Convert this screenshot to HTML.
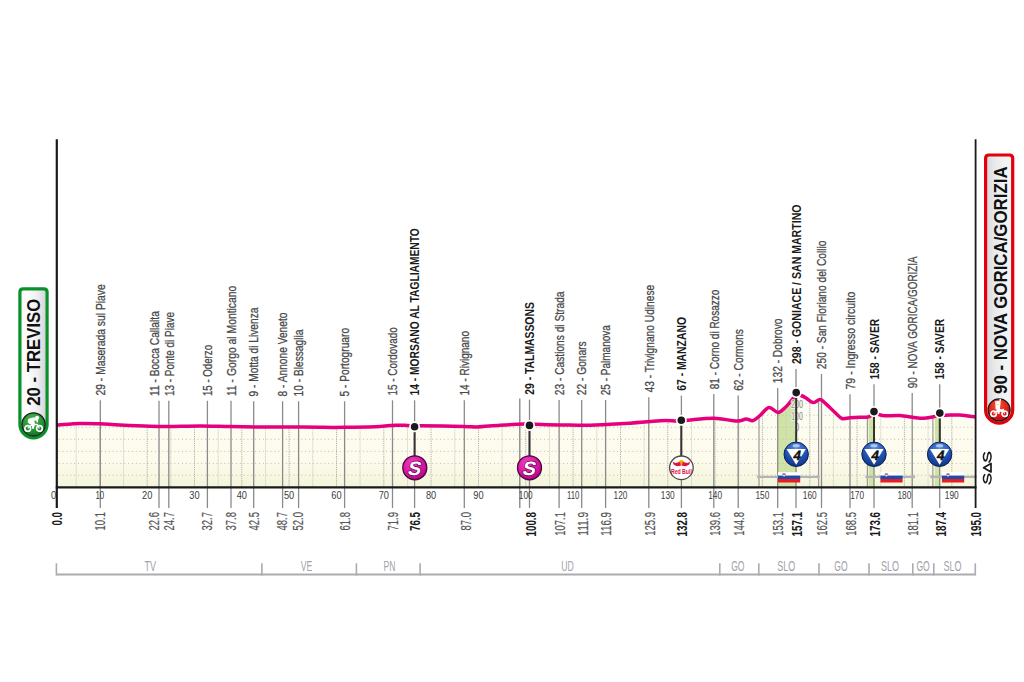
<!DOCTYPE html>
<html><head><meta charset="utf-8"><style>
html,body{margin:0;padding:0;background:#fff;width:1024px;height:682px;overflow:hidden}
svg{display:block}
text{font-family:"Liberation Sans", sans-serif}
</style></head><body>
<svg width="1024" height="682" viewBox="0 0 1024 682">
<defs>
<linearGradient id="fillg" x1="0" y1="0" x2="0" y2="1">
 <stop offset="0" stop-color="#fefdf4"/><stop offset="0.72" stop-color="#fcfbec"/><stop offset="0.86" stop-color="#f8f8e3"/><stop offset="1" stop-color="#f2f4da"/>
</linearGradient>
<linearGradient id="badgeg" x1="0" y1="0" x2="1" y2="0">
 <stop offset="0" stop-color="#f6f6f6"/><stop offset="0.25" stop-color="#ffffff"/><stop offset="0.65" stop-color="#eeeef0"/><stop offset="1" stop-color="#cfd0d5"/>
</linearGradient>
<linearGradient id="badgeg2" x1="1" y1="0" x2="0" y2="0">
 <stop offset="0" stop-color="#f4f5f5"/><stop offset="0.3" stop-color="#f2f3f3"/><stop offset="0.7" stop-color="#e6e8ea"/><stop offset="1" stop-color="#d2d6da"/>
</linearGradient>
<radialGradient id="greeng" cx="0.45" cy="0.3" r="0.75">
 <stop offset="0" stop-color="#4db848"/><stop offset="0.7" stop-color="#1d8a34"/><stop offset="1" stop-color="#0f6a26"/>
</radialGradient>
<radialGradient id="redg" cx="0.45" cy="0.3" r="0.75">
 <stop offset="0" stop-color="#f2592a"/><stop offset="0.7" stop-color="#d8141b"/><stop offset="1" stop-color="#a50e14"/>
</radialGradient>
<radialGradient id="magg" cx="0.4" cy="0.3" r="0.8">
 <stop offset="0" stop-color="#f040c0"/><stop offset="0.65" stop-color="#d4109f"/><stop offset="1" stop-color="#9a0072"/>
</radialGradient>
<radialGradient id="blueg" cx="0.5" cy="0.25" r="0.85">
 <stop offset="0" stop-color="#5a8fe0"/><stop offset="0.55" stop-color="#1f4fae"/><stop offset="1" stop-color="#0d2a72"/>
</radialGradient>
</defs>

<path d="M56.8,425.0 C60.7,424.8 72.8,423.7 80.0,423.5 C87.2,423.3 93.3,423.6 100.0,423.8 C106.7,424.1 111.7,424.6 120.0,425.0 C128.3,425.4 141.7,426.0 150.0,426.2 C158.3,426.4 161.7,426.4 170.0,426.4 C178.3,426.3 190.0,425.9 200.0,425.9 C210.0,425.9 220.0,426.4 230.0,426.6 C240.0,426.8 250.0,426.9 260.0,427.0 C270.0,427.1 280.0,426.9 290.0,427.0 C300.0,427.1 310.8,427.2 320.0,427.3 C329.2,427.4 335.0,427.5 345.0,427.3 C355.0,427.1 371.7,426.8 380.0,426.4 C388.3,426.0 390.8,425.4 395.0,425.2 C399.2,425.0 401.8,425.2 405.0,425.3 C408.2,425.4 412.1,425.9 414.5,426.0 C416.9,426.1 411.2,425.7 419.5,425.8 C427.8,425.9 454.4,426.2 464.0,426.4 C473.6,426.6 471.0,427.2 477.0,427.0 C483.0,426.8 492.0,425.7 500.0,425.2 C508.0,424.7 520.1,424.2 525.0,424.1 C529.9,424.0 527.8,424.6 529.5,424.6 C531.2,424.6 529.9,424.2 535.0,424.3 C540.1,424.4 550.8,424.8 560.0,424.9 C569.2,425.0 580.0,425.4 590.0,425.2 C600.0,425.0 610.0,424.4 620.0,423.8 C630.0,423.2 642.5,422.1 650.0,421.5 C657.5,420.9 660.7,420.6 665.0,420.5 C669.3,420.4 673.3,421.1 676.0,421.1 C678.7,421.1 679.3,420.8 681.3,420.6 C683.3,420.5 682.5,420.6 688.0,420.2 C693.5,419.8 705.8,418.0 714.0,418.2 C722.2,418.4 731.7,421.0 737.0,421.1 C742.3,421.2 743.3,419.1 746.0,419.0 C748.7,418.9 750.7,421.2 753.0,420.6 C755.3,420.0 757.3,417.7 760.0,415.5 C762.7,413.3 766.0,408.0 769.0,407.5 C772.0,407.0 775.2,412.6 778.0,412.5 C780.8,412.4 783.5,409.0 786.0,406.7 C788.5,404.4 791.3,400.6 793.0,398.5 C794.7,396.4 795.1,394.6 796.3,394.0 C797.5,393.4 798.4,394.4 800.0,395.0 C801.6,395.6 803.8,396.6 806.0,397.9 C808.2,399.2 810.7,402.3 813.0,402.6 C815.3,402.9 817.8,399.4 820.0,399.6 C822.2,399.8 823.5,401.7 826.0,403.8 C828.5,405.9 832.3,410.1 835.0,412.5 C837.7,414.9 839.5,417.6 842.0,418.5 C844.5,419.4 847.0,418.0 850.0,417.8 C853.0,417.6 857.0,417.4 860.0,417.3 C863.0,417.2 866.2,417.4 868.0,417.0 C869.8,416.6 870.0,415.8 871.0,415.2 C872.0,414.6 872.8,413.6 874.0,413.5 C875.2,413.4 876.2,413.9 878.0,414.3 C879.8,414.7 881.3,415.6 885.0,415.8 C888.7,416.0 894.2,415.1 900.0,415.5 C905.8,415.9 914.2,418.1 920.0,418.2 C925.8,418.3 931.7,417.0 935.0,416.4 C938.3,415.8 938.1,414.7 939.8,414.5 C941.5,414.3 941.6,415.1 945.0,415.2 C948.4,415.3 954.9,414.7 960.0,415.0 C965.1,415.3 973.0,416.7 975.6,417.0 L975.6,487.4 L56.8,487.4 Z" fill="url(#fillg)"/>
<clipPath id="fillclip"><path d="M56.8,425.0 C60.7,424.8 72.8,423.7 80.0,423.5 C87.2,423.3 93.3,423.6 100.0,423.8 C106.7,424.1 111.7,424.6 120.0,425.0 C128.3,425.4 141.7,426.0 150.0,426.2 C158.3,426.4 161.7,426.4 170.0,426.4 C178.3,426.3 190.0,425.9 200.0,425.9 C210.0,425.9 220.0,426.4 230.0,426.6 C240.0,426.8 250.0,426.9 260.0,427.0 C270.0,427.1 280.0,426.9 290.0,427.0 C300.0,427.1 310.8,427.2 320.0,427.3 C329.2,427.4 335.0,427.5 345.0,427.3 C355.0,427.1 371.7,426.8 380.0,426.4 C388.3,426.0 390.8,425.4 395.0,425.2 C399.2,425.0 401.8,425.2 405.0,425.3 C408.2,425.4 412.1,425.9 414.5,426.0 C416.9,426.1 411.2,425.7 419.5,425.8 C427.8,425.9 454.4,426.2 464.0,426.4 C473.6,426.6 471.0,427.2 477.0,427.0 C483.0,426.8 492.0,425.7 500.0,425.2 C508.0,424.7 520.1,424.2 525.0,424.1 C529.9,424.0 527.8,424.6 529.5,424.6 C531.2,424.6 529.9,424.2 535.0,424.3 C540.1,424.4 550.8,424.8 560.0,424.9 C569.2,425.0 580.0,425.4 590.0,425.2 C600.0,425.0 610.0,424.4 620.0,423.8 C630.0,423.2 642.5,422.1 650.0,421.5 C657.5,420.9 660.7,420.6 665.0,420.5 C669.3,420.4 673.3,421.1 676.0,421.1 C678.7,421.1 679.3,420.8 681.3,420.6 C683.3,420.5 682.5,420.6 688.0,420.2 C693.5,419.8 705.8,418.0 714.0,418.2 C722.2,418.4 731.7,421.0 737.0,421.1 C742.3,421.2 743.3,419.1 746.0,419.0 C748.7,418.9 750.7,421.2 753.0,420.6 C755.3,420.0 757.3,417.7 760.0,415.5 C762.7,413.3 766.0,408.0 769.0,407.5 C772.0,407.0 775.2,412.6 778.0,412.5 C780.8,412.4 783.5,409.0 786.0,406.7 C788.5,404.4 791.3,400.6 793.0,398.5 C794.7,396.4 795.1,394.6 796.3,394.0 C797.5,393.4 798.4,394.4 800.0,395.0 C801.6,395.6 803.8,396.6 806.0,397.9 C808.2,399.2 810.7,402.3 813.0,402.6 C815.3,402.9 817.8,399.4 820.0,399.6 C822.2,399.8 823.5,401.7 826.0,403.8 C828.5,405.9 832.3,410.1 835.0,412.5 C837.7,414.9 839.5,417.6 842.0,418.5 C844.5,419.4 847.0,418.0 850.0,417.8 C853.0,417.6 857.0,417.4 860.0,417.3 C863.0,417.2 866.2,417.4 868.0,417.0 C869.8,416.6 870.0,415.8 871.0,415.2 C872.0,414.6 872.8,413.6 874.0,413.5 C875.2,413.4 876.2,413.9 878.0,414.3 C879.8,414.7 881.3,415.6 885.0,415.8 C888.7,416.0 894.2,415.1 900.0,415.5 C905.8,415.9 914.2,418.1 920.0,418.2 C925.8,418.3 931.7,417.0 935.0,416.4 C938.3,415.8 938.1,414.7 939.8,414.5 C941.5,414.3 941.6,415.1 945.0,415.2 C948.4,415.3 954.9,414.7 960.0,415.0 C965.1,415.3 973.0,416.7 975.6,417.0 L975.6,487.4 L56.8,487.4 Z"/></clipPath>
<g clip-path="url(#fillclip)">
<rect x="777.6" y="380" width="18.6" height="107.39999999999998" fill="#cfe3a6"/>
<rect x="868.6" y="380" width="5.4" height="107.39999999999998" fill="#cfe3a6"/>
<rect x="934.8" y="380" width="4.9" height="107.39999999999998" fill="#cfe3a6"/>
<line x1="58.8" y1="403.4" x2="974.6" y2="403.4" stroke="#bdbdb2" stroke-width="1" stroke-dasharray="1,2.85"/>
<line x1="58.8" y1="415.3" x2="974.6" y2="415.3" stroke="#bdbdb2" stroke-width="1" stroke-dasharray="1,2.85"/>
<line x1="58.8" y1="427.3" x2="974.6" y2="427.3" stroke="#bdbdb2" stroke-width="1" stroke-dasharray="1,2.85"/>
<line x1="58.8" y1="439.3" x2="974.6" y2="439.3" stroke="#bdbdb2" stroke-width="1" stroke-dasharray="1,2.85"/>
<line x1="58.8" y1="451.4" x2="974.6" y2="451.4" stroke="#bdbdb2" stroke-width="1" stroke-dasharray="1,2.85"/>
<line x1="58.8" y1="463.4" x2="974.6" y2="463.4" stroke="#bdbdb2" stroke-width="1" stroke-dasharray="1,2.85"/>
<line x1="58.8" y1="475.2" x2="974.6" y2="475.2" stroke="#bdbdb2" stroke-width="1" stroke-dasharray="1,2.85"/>
<line x1="76.2" y1="390" x2="76.2" y2="487.4" stroke="#cfcfc4" stroke-width="0.9" stroke-dasharray="1.5,0.7"/>
<line x1="99.8" y1="390" x2="99.8" y2="487.4" stroke="#a9a9a0" stroke-width="0.9" stroke-dasharray="1.2,1.0"/>
<line x1="123.5" y1="390" x2="123.5" y2="487.4" stroke="#cfcfc4" stroke-width="0.9" stroke-dasharray="1.5,0.7"/>
<line x1="147.2" y1="390" x2="147.2" y2="487.4" stroke="#a9a9a0" stroke-width="0.9" stroke-dasharray="1.2,1.0"/>
<line x1="170.8" y1="390" x2="170.8" y2="487.4" stroke="#cfcfc4" stroke-width="0.9" stroke-dasharray="1.5,0.7"/>
<line x1="194.5" y1="390" x2="194.5" y2="487.4" stroke="#a9a9a0" stroke-width="0.9" stroke-dasharray="1.2,1.0"/>
<line x1="218.2" y1="390" x2="218.2" y2="487.4" stroke="#cfcfc4" stroke-width="0.9" stroke-dasharray="1.5,0.7"/>
<line x1="241.8" y1="390" x2="241.8" y2="487.4" stroke="#a9a9a0" stroke-width="0.9" stroke-dasharray="1.2,1.0"/>
<line x1="265.5" y1="390" x2="265.5" y2="487.4" stroke="#cfcfc4" stroke-width="0.9" stroke-dasharray="1.5,0.7"/>
<line x1="289.1" y1="390" x2="289.1" y2="487.4" stroke="#a9a9a0" stroke-width="0.9" stroke-dasharray="1.2,1.0"/>
<line x1="312.8" y1="390" x2="312.8" y2="487.4" stroke="#cfcfc4" stroke-width="0.9" stroke-dasharray="1.5,0.7"/>
<line x1="336.5" y1="390" x2="336.5" y2="487.4" stroke="#a9a9a0" stroke-width="0.9" stroke-dasharray="1.2,1.0"/>
<line x1="360.1" y1="390" x2="360.1" y2="487.4" stroke="#cfcfc4" stroke-width="0.9" stroke-dasharray="1.5,0.7"/>
<line x1="383.8" y1="390" x2="383.8" y2="487.4" stroke="#a9a9a0" stroke-width="0.9" stroke-dasharray="1.2,1.0"/>
<line x1="407.5" y1="390" x2="407.5" y2="487.4" stroke="#cfcfc4" stroke-width="0.9" stroke-dasharray="1.5,0.7"/>
<line x1="431.1" y1="390" x2="431.1" y2="487.4" stroke="#a9a9a0" stroke-width="0.9" stroke-dasharray="1.2,1.0"/>
<line x1="454.8" y1="390" x2="454.8" y2="487.4" stroke="#cfcfc4" stroke-width="0.9" stroke-dasharray="1.5,0.7"/>
<line x1="478.5" y1="390" x2="478.5" y2="487.4" stroke="#a9a9a0" stroke-width="0.9" stroke-dasharray="1.2,1.0"/>
<line x1="502.1" y1="390" x2="502.1" y2="487.4" stroke="#cfcfc4" stroke-width="0.9" stroke-dasharray="1.5,0.7"/>
<line x1="525.8" y1="390" x2="525.8" y2="487.4" stroke="#a9a9a0" stroke-width="0.9" stroke-dasharray="1.2,1.0"/>
<line x1="549.5" y1="390" x2="549.5" y2="487.4" stroke="#cfcfc4" stroke-width="0.9" stroke-dasharray="1.5,0.7"/>
<line x1="573.1" y1="390" x2="573.1" y2="487.4" stroke="#a9a9a0" stroke-width="0.9" stroke-dasharray="1.2,1.0"/>
<line x1="596.8" y1="390" x2="596.8" y2="487.4" stroke="#cfcfc4" stroke-width="0.9" stroke-dasharray="1.5,0.7"/>
<line x1="620.5" y1="390" x2="620.5" y2="487.4" stroke="#a9a9a0" stroke-width="0.9" stroke-dasharray="1.2,1.0"/>
<line x1="644.1" y1="390" x2="644.1" y2="487.4" stroke="#cfcfc4" stroke-width="0.9" stroke-dasharray="1.5,0.7"/>
<line x1="667.8" y1="390" x2="667.8" y2="487.4" stroke="#a9a9a0" stroke-width="0.9" stroke-dasharray="1.2,1.0"/>
<line x1="691.5" y1="390" x2="691.5" y2="487.4" stroke="#cfcfc4" stroke-width="0.9" stroke-dasharray="1.5,0.7"/>
<line x1="715.1" y1="390" x2="715.1" y2="487.4" stroke="#a9a9a0" stroke-width="0.9" stroke-dasharray="1.2,1.0"/>
<line x1="738.8" y1="390" x2="738.8" y2="487.4" stroke="#cfcfc4" stroke-width="0.9" stroke-dasharray="1.5,0.7"/>
<line x1="762.4" y1="390" x2="762.4" y2="487.4" stroke="#a9a9a0" stroke-width="0.9" stroke-dasharray="1.2,1.0"/>
<line x1="786.1" y1="390" x2="786.1" y2="487.4" stroke="#cfcfc4" stroke-width="0.9" stroke-dasharray="1.5,0.7"/>
<line x1="809.8" y1="390" x2="809.8" y2="487.4" stroke="#a9a9a0" stroke-width="0.9" stroke-dasharray="1.2,1.0"/>
<line x1="833.4" y1="390" x2="833.4" y2="487.4" stroke="#cfcfc4" stroke-width="0.9" stroke-dasharray="1.5,0.7"/>
<line x1="857.1" y1="390" x2="857.1" y2="487.4" stroke="#a9a9a0" stroke-width="0.9" stroke-dasharray="1.2,1.0"/>
<line x1="880.8" y1="390" x2="880.8" y2="487.4" stroke="#cfcfc4" stroke-width="0.9" stroke-dasharray="1.5,0.7"/>
<line x1="904.4" y1="390" x2="904.4" y2="487.4" stroke="#a9a9a0" stroke-width="0.9" stroke-dasharray="1.2,1.0"/>
<line x1="928.1" y1="390" x2="928.1" y2="487.4" stroke="#cfcfc4" stroke-width="0.9" stroke-dasharray="1.5,0.7"/>
<line x1="951.8" y1="390" x2="951.8" y2="487.4" stroke="#a9a9a0" stroke-width="0.9" stroke-dasharray="1.2,1.0"/>
</g>
<line x1="100.3" y1="400.3" x2="100.3" y2="508" stroke="#8a8a8a" stroke-width="1.3"/>
<line x1="159.0" y1="400.8" x2="159.0" y2="508" stroke="#8a8a8a" stroke-width="1.3"/>
<line x1="168.8" y1="400.8" x2="168.8" y2="508" stroke="#8a8a8a" stroke-width="1.3"/>
<line x1="207.4" y1="400.8" x2="207.4" y2="508" stroke="#8a8a8a" stroke-width="1.3"/>
<line x1="231.0" y1="400.8" x2="231.0" y2="508" stroke="#8a8a8a" stroke-width="1.3"/>
<line x1="253.7" y1="401.3" x2="253.7" y2="508" stroke="#8a8a8a" stroke-width="1.3"/>
<line x1="282.6" y1="401.3" x2="282.6" y2="508" stroke="#8a8a8a" stroke-width="1.3"/>
<line x1="298.6" y1="401.3" x2="298.6" y2="508" stroke="#8a8a8a" stroke-width="1.3"/>
<line x1="344.6" y1="401.3" x2="344.6" y2="508" stroke="#8a8a8a" stroke-width="1.3"/>
<line x1="392.5" y1="400.3" x2="392.5" y2="508" stroke="#8a8a8a" stroke-width="1.3"/>
<line x1="414.6" y1="400.3" x2="414.6" y2="508" stroke="#8a8a8a" stroke-width="1.3"/>
<line x1="464.3" y1="400.3" x2="464.3" y2="508" stroke="#8a8a8a" stroke-width="1.3"/>
<line x1="529.5" y1="399.6" x2="529.5" y2="508" stroke="#8a8a8a" stroke-width="1.3"/>
<line x1="559.1" y1="400.0" x2="559.1" y2="508" stroke="#8a8a8a" stroke-width="1.3"/>
<line x1="581.7" y1="400.0" x2="581.7" y2="508" stroke="#8a8a8a" stroke-width="1.3"/>
<line x1="605.6" y1="400.0" x2="605.6" y2="508" stroke="#8a8a8a" stroke-width="1.3"/>
<line x1="648.8" y1="397.3" x2="648.8" y2="508" stroke="#8a8a8a" stroke-width="1.3"/>
<line x1="681.4" y1="395.6" x2="681.4" y2="508" stroke="#8a8a8a" stroke-width="1.3"/>
<line x1="713.8" y1="394.1" x2="713.8" y2="508" stroke="#8a8a8a" stroke-width="1.3"/>
<line x1="738.2" y1="395.6" x2="738.2" y2="508" stroke="#8a8a8a" stroke-width="1.3"/>
<line x1="777.7" y1="388.0" x2="777.7" y2="508" stroke="#8a8a8a" stroke-width="1.3"/>
<line x1="796.0" y1="368.9" x2="796.0" y2="508" stroke="#8a8a8a" stroke-width="1.3"/>
<line x1="821.5" y1="374.0" x2="821.5" y2="508" stroke="#8a8a8a" stroke-width="1.3"/>
<line x1="850.0" y1="394.3" x2="850.0" y2="508" stroke="#8a8a8a" stroke-width="1.3"/>
<line x1="874.0" y1="384.2" x2="874.0" y2="508" stroke="#8a8a8a" stroke-width="1.3"/>
<line x1="912.2" y1="393.0" x2="912.2" y2="508" stroke="#8a8a8a" stroke-width="1.3"/>
<line x1="939.7" y1="384.2" x2="939.7" y2="508" stroke="#8a8a8a" stroke-width="1.3"/>
<line x1="519.8" y1="398.4" x2="519.8" y2="508" stroke="#808080" stroke-width="1.3"/>
<line x1="759.0" y1="416.2" x2="759.0" y2="487.4" stroke="#9a9a9a" stroke-width="1.2"/>
<line x1="818.6" y1="400.2" x2="818.6" y2="487.4" stroke="#9a9a9a" stroke-width="1.2"/>
<line x1="867.4" y1="417.0" x2="867.4" y2="487.4" stroke="#9a9a9a" stroke-width="1.2"/>
<line x1="932.9" y1="416.7" x2="932.9" y2="487.4" stroke="#9a9a9a" stroke-width="1.2"/>
<path d="M56.8,425.0 C60.7,424.8 72.8,423.7 80.0,423.5 C87.2,423.3 93.3,423.6 100.0,423.8 C106.7,424.1 111.7,424.6 120.0,425.0 C128.3,425.4 141.7,426.0 150.0,426.2 C158.3,426.4 161.7,426.4 170.0,426.4 C178.3,426.3 190.0,425.9 200.0,425.9 C210.0,425.9 220.0,426.4 230.0,426.6 C240.0,426.8 250.0,426.9 260.0,427.0 C270.0,427.1 280.0,426.9 290.0,427.0 C300.0,427.1 310.8,427.2 320.0,427.3 C329.2,427.4 335.0,427.5 345.0,427.3 C355.0,427.1 371.7,426.8 380.0,426.4 C388.3,426.0 390.8,425.4 395.0,425.2 C399.2,425.0 401.8,425.2 405.0,425.3 C408.2,425.4 412.1,425.9 414.5,426.0 C416.9,426.1 411.2,425.7 419.5,425.8 C427.8,425.9 454.4,426.2 464.0,426.4 C473.6,426.6 471.0,427.2 477.0,427.0 C483.0,426.8 492.0,425.7 500.0,425.2 C508.0,424.7 520.1,424.2 525.0,424.1 C529.9,424.0 527.8,424.6 529.5,424.6 C531.2,424.6 529.9,424.2 535.0,424.3 C540.1,424.4 550.8,424.8 560.0,424.9 C569.2,425.0 580.0,425.4 590.0,425.2 C600.0,425.0 610.0,424.4 620.0,423.8 C630.0,423.2 642.5,422.1 650.0,421.5 C657.5,420.9 660.7,420.6 665.0,420.5 C669.3,420.4 673.3,421.1 676.0,421.1 C678.7,421.1 679.3,420.8 681.3,420.6 C683.3,420.5 682.5,420.6 688.0,420.2 C693.5,419.8 705.8,418.0 714.0,418.2 C722.2,418.4 731.7,421.0 737.0,421.1 C742.3,421.2 743.3,419.1 746.0,419.0 C748.7,418.9 750.7,421.2 753.0,420.6 C755.3,420.0 757.3,417.7 760.0,415.5 C762.7,413.3 766.0,408.0 769.0,407.5 C772.0,407.0 775.2,412.6 778.0,412.5 C780.8,412.4 783.5,409.0 786.0,406.7 C788.5,404.4 791.3,400.6 793.0,398.5 C794.7,396.4 795.1,394.6 796.3,394.0 C797.5,393.4 798.4,394.4 800.0,395.0 C801.6,395.6 803.8,396.6 806.0,397.9 C808.2,399.2 810.7,402.3 813.0,402.6 C815.3,402.9 817.8,399.4 820.0,399.6 C822.2,399.8 823.5,401.7 826.0,403.8 C828.5,405.9 832.3,410.1 835.0,412.5 C837.7,414.9 839.5,417.6 842.0,418.5 C844.5,419.4 847.0,418.0 850.0,417.8 C853.0,417.6 857.0,417.4 860.0,417.3 C863.0,417.2 866.2,417.4 868.0,417.0 C869.8,416.6 870.0,415.8 871.0,415.2 C872.0,414.6 872.8,413.6 874.0,413.5 C875.2,413.4 876.2,413.9 878.0,414.3 C879.8,414.7 881.3,415.6 885.0,415.8 C888.7,416.0 894.2,415.1 900.0,415.5 C905.8,415.9 914.2,418.1 920.0,418.2 C925.8,418.3 931.7,417.0 935.0,416.4 C938.3,415.8 938.1,414.7 939.8,414.5 C941.5,414.3 941.6,415.1 945.0,415.2 C948.4,415.3 954.9,414.7 960.0,415.0 C965.1,415.3 973.0,416.7 975.6,417.0" fill="none" stroke="#e6007e" stroke-width="3.5" stroke-linejoin="round" stroke-linecap="butt"/>
<line x1="757.8" y1="476.8" x2="818.9" y2="476.8" stroke="#b4b4b4" stroke-width="2.2"/>
<circle cx="758.8" cy="476.8" r="1.8" fill="#b4b4b4"/><circle cx="817.9" cy="476.8" r="1.8" fill="#b4b4b4"/>
<g transform="translate(778.0,472.2)"><rect x="0" y="0" width="22.2" height="3.4" fill="#ffffff"/><rect x="0" y="3.4" width="22.2" height="3.4" fill="#1f4caa"/><rect x="0" y="6.8" width="22.2" height="3.5" fill="#e91c24"/><path d="M4.6,1.4 h2.8 v1.9 q-1.4,1.9 -2.8,0 z" fill="#ffffff" stroke="#c84a6a" stroke-width="0.5"/><rect x="4.9" y="1.6" width="2.2" height="0.9" fill="#1f4caa"/></g>
<line x1="866.0" y1="476.8" x2="914.4" y2="476.8" stroke="#b4b4b4" stroke-width="2.2"/>
<circle cx="867.0" cy="476.8" r="1.8" fill="#b4b4b4"/><circle cx="913.4" cy="476.8" r="1.8" fill="#b4b4b4"/>
<g transform="translate(880.4,472.2)"><rect x="0" y="0" width="22.2" height="3.4" fill="#ffffff"/><rect x="0" y="3.4" width="22.2" height="3.4" fill="#1f4caa"/><rect x="0" y="6.8" width="22.2" height="3.5" fill="#e91c24"/><path d="M4.6,1.4 h2.8 v1.9 q-1.4,1.9 -2.8,0 z" fill="#ffffff" stroke="#c84a6a" stroke-width="0.5"/><rect x="4.9" y="1.6" width="2.2" height="0.9" fill="#1f4caa"/></g>
<line x1="930.8" y1="476.8" x2="976.0" y2="476.8" stroke="#b4b4b4" stroke-width="2.2"/>
<circle cx="931.8" cy="476.8" r="1.8" fill="#b4b4b4"/><circle cx="975.0" cy="476.8" r="1.8" fill="#b4b4b4"/>
<g transform="translate(942.0,472.2)"><rect x="0" y="0" width="22.2" height="3.4" fill="#ffffff"/><rect x="0" y="3.4" width="22.2" height="3.4" fill="#1f4caa"/><rect x="0" y="6.8" width="22.2" height="3.5" fill="#e91c24"/><path d="M4.6,1.4 h2.8 v1.9 q-1.4,1.9 -2.8,0 z" fill="#ffffff" stroke="#c84a6a" stroke-width="0.5"/><rect x="4.9" y="1.6" width="2.2" height="0.9" fill="#1f4caa"/></g>
<text x="797.0" y="408.1" font-size="10" fill="#8c8c8c" text-anchor="middle" textLength="12.2" lengthAdjust="spacingAndGlyphs" stroke="#f4f4ea" stroke-width="1.6" paint-order="stroke">200</text>
<text x="797.0" y="419.8" font-size="10" fill="#8c8c8c" text-anchor="middle" textLength="11.5" lengthAdjust="spacingAndGlyphs" stroke="#f4f4ea" stroke-width="1.6" paint-order="stroke">100</text>
<text x="797.0" y="431.1" font-size="10" fill="#8c8c8c" text-anchor="middle" textLength="4.2" lengthAdjust="spacingAndGlyphs" stroke="#f4f4ea" stroke-width="1.6" paint-order="stroke">0</text>
<line x1="414.6" y1="426.8" x2="414.6" y2="467.8" stroke="#333333" stroke-width="2"/>
<line x1="529.5" y1="425.4" x2="529.5" y2="467.8" stroke="#333333" stroke-width="2"/>
<line x1="681.3" y1="420.3" x2="681.3" y2="467.8" stroke="#333333" stroke-width="2"/>
<line x1="796.2" y1="392.6" x2="796.2" y2="454.3" stroke="#333333" stroke-width="2"/>
<line x1="874.0" y1="411.6" x2="874.0" y2="454.3" stroke="#333333" stroke-width="2"/>
<line x1="939.8" y1="413.1" x2="939.8" y2="454.3" stroke="#333333" stroke-width="2"/>
<circle cx="414.6" cy="426.8" r="5.5" fill="#ffffff"/><circle cx="414.6" cy="426.8" r="3.8" fill="#1a1a1a"/>
<circle cx="529.5" cy="425.4" r="5.5" fill="#ffffff"/><circle cx="529.5" cy="425.4" r="3.8" fill="#1a1a1a"/>
<circle cx="681.3" cy="420.3" r="5.5" fill="#ffffff"/><circle cx="681.3" cy="420.3" r="3.8" fill="#1a1a1a"/>
<circle cx="796.2" cy="392.6" r="5.5" fill="#ffffff"/><circle cx="796.2" cy="392.6" r="3.8" fill="#1a1a1a"/>
<circle cx="874.0" cy="411.6" r="5.5" fill="#ffffff"/><circle cx="874.0" cy="411.6" r="3.8" fill="#1a1a1a"/>
<circle cx="939.8" cy="413.1" r="5.5" fill="#ffffff"/><circle cx="939.8" cy="413.1" r="3.8" fill="#1a1a1a"/>
<circle cx="414.8" cy="467.8" r="12.0" fill="url(#magg)" stroke="#4a0838" stroke-width="1.3"/><g transform="translate(413.60,474.70) skewX(-12)"><text x="0" y="0" font-size="19.5" font-weight="700" fill="#ffffff" text-anchor="middle" stroke="#5a0044" stroke-width="1.4" paint-order="stroke">S</text></g>
<circle cx="529.5" cy="467.8" r="12.0" fill="url(#magg)" stroke="#4a0838" stroke-width="1.3"/><g transform="translate(528.30,474.70) skewX(-12)"><text x="0" y="0" font-size="19.5" font-weight="700" fill="#ffffff" text-anchor="middle" stroke="#5a0044" stroke-width="1.4" paint-order="stroke">S</text></g>
<circle cx="681.4" cy="467.8" r="11.8" fill="#ffffff" stroke="#4a4a4a" stroke-width="1.3"/><circle cx="681.4" cy="462.80" r="2.9" fill="#f8b400"/><g transform="translate(681.4,467.8)" fill="#e0104a"><path d="M-8.8,-6.4 L-6.2,-4.9 L-1.2,-5.8 L-0.6,-2.0 L-4.6,-1.6 L-7.8,-3.3 Z"/><path d="M8.8,-6.4 L6.2,-4.9 L1.2,-5.8 L0.6,-2.0 L4.6,-1.6 L7.8,-3.3 Z"/></g><text x="681.4" y="473.60" font-size="8" font-weight="700" fill="#e0104a" text-anchor="middle" textLength="21" lengthAdjust="spacingAndGlyphs">Red Bull</text>
<circle cx="796.2" cy="454.3" r="12.2" fill="url(#blueg)" stroke="#0b1f55" stroke-width="1"/><ellipse cx="796.2" cy="445.7" rx="3.6" ry="1.6" fill="#bcd3f5" opacity="0.85"/><path d="M786.6,449.0 L805.8000000000001,449.0 L796.2,464.8 Z" fill="#ffffff"/><g transform="translate(796.60,459.70) skewX(-10)"><text x="0" y="0" font-size="13.5" font-weight="700" fill="#111" stroke="#111" stroke-width="0.5" text-anchor="middle">4</text></g>
<circle cx="874.0" cy="454.3" r="12.2" fill="url(#blueg)" stroke="#0b1f55" stroke-width="1"/><ellipse cx="874.0" cy="445.7" rx="3.6" ry="1.6" fill="#bcd3f5" opacity="0.85"/><path d="M864.4,449.0 L883.6,449.0 L874.0,464.8 Z" fill="#ffffff"/><g transform="translate(874.40,459.70) skewX(-10)"><text x="0" y="0" font-size="13.5" font-weight="700" fill="#111" stroke="#111" stroke-width="0.5" text-anchor="middle">4</text></g>
<circle cx="939.6" cy="454.3" r="12.2" fill="url(#blueg)" stroke="#0b1f55" stroke-width="1"/><ellipse cx="939.6" cy="445.7" rx="3.6" ry="1.6" fill="#bcd3f5" opacity="0.85"/><path d="M930.0,449.0 L949.2,449.0 L939.6,464.8 Z" fill="#ffffff"/><g transform="translate(940.00,459.70) skewX(-10)"><text x="0" y="0" font-size="13.5" font-weight="700" fill="#111" stroke="#111" stroke-width="0.5" text-anchor="middle">4</text></g>
<line x1="56.8" y1="139.2" x2="56.8" y2="508" stroke="#1a1a1a" stroke-width="2.2"/>
<line x1="975.6" y1="139.2" x2="975.6" y2="508" stroke="#1a1a1a" stroke-width="1.8"/>
<line x1="55.8" y1="487.4" x2="976.5" y2="487.4" stroke="#1a1a1a" stroke-width="2.2"/>
<text x="53.6" y="498.9" font-size="10.3" fill="#3c3c3c" text-anchor="middle" textLength="5.2" lengthAdjust="spacingAndGlyphs">0</text>
<text x="99.8" y="498.9" font-size="10.3" fill="#3c3c3c" text-anchor="middle" textLength="8.8" lengthAdjust="spacingAndGlyphs">10</text>
<text x="147.2" y="498.9" font-size="10.3" fill="#3c3c3c" text-anchor="middle" textLength="10.3" lengthAdjust="spacingAndGlyphs">20</text>
<text x="194.5" y="498.9" font-size="10.3" fill="#3c3c3c" text-anchor="middle" textLength="10.3" lengthAdjust="spacingAndGlyphs">30</text>
<text x="241.8" y="498.9" font-size="10.3" fill="#3c3c3c" text-anchor="middle" textLength="10.3" lengthAdjust="spacingAndGlyphs">40</text>
<text x="289.1" y="498.9" font-size="10.3" fill="#3c3c3c" text-anchor="middle" textLength="10.3" lengthAdjust="spacingAndGlyphs">50</text>
<text x="336.5" y="498.9" font-size="10.3" fill="#3c3c3c" text-anchor="middle" textLength="10.3" lengthAdjust="spacingAndGlyphs">60</text>
<text x="383.8" y="498.9" font-size="10.3" fill="#3c3c3c" text-anchor="middle" textLength="10.3" lengthAdjust="spacingAndGlyphs">70</text>
<text x="431.1" y="498.9" font-size="10.3" fill="#3c3c3c" text-anchor="middle" textLength="10.3" lengthAdjust="spacingAndGlyphs">80</text>
<text x="478.5" y="498.9" font-size="10.3" fill="#3c3c3c" text-anchor="middle" textLength="10.3" lengthAdjust="spacingAndGlyphs">90</text>
<text x="525.8" y="498.9" font-size="10.3" fill="#3c3c3c" text-anchor="middle" textLength="13.9" lengthAdjust="spacingAndGlyphs">100</text>
<text x="573.1" y="498.9" font-size="10.3" fill="#3c3c3c" text-anchor="middle" textLength="12.4" lengthAdjust="spacingAndGlyphs">110</text>
<text x="620.5" y="498.9" font-size="10.3" fill="#3c3c3c" text-anchor="middle" textLength="13.9" lengthAdjust="spacingAndGlyphs">120</text>
<text x="667.8" y="498.9" font-size="10.3" fill="#3c3c3c" text-anchor="middle" textLength="13.9" lengthAdjust="spacingAndGlyphs">130</text>
<text x="715.1" y="498.9" font-size="10.3" fill="#3c3c3c" text-anchor="middle" textLength="13.9" lengthAdjust="spacingAndGlyphs">140</text>
<text x="762.4" y="498.9" font-size="10.3" fill="#3c3c3c" text-anchor="middle" textLength="13.9" lengthAdjust="spacingAndGlyphs">150</text>
<text x="809.8" y="498.9" font-size="10.3" fill="#3c3c3c" text-anchor="middle" textLength="13.9" lengthAdjust="spacingAndGlyphs">160</text>
<text x="857.1" y="498.9" font-size="10.3" fill="#3c3c3c" text-anchor="middle" textLength="13.9" lengthAdjust="spacingAndGlyphs">170</text>
<text x="904.4" y="498.9" font-size="10.3" fill="#3c3c3c" text-anchor="middle" textLength="13.9" lengthAdjust="spacingAndGlyphs">180</text>
<text x="951.8" y="498.9" font-size="10.3" fill="#3c3c3c" text-anchor="middle" textLength="13.9" lengthAdjust="spacingAndGlyphs">190</text>
<text transform="translate(105.0,395.5) rotate(-90) scale(0.765072,1)" font-size="13.5" font-weight="400" fill="#484848" stroke="#4a4a4a" stroke-width="0.28">29 - Maserada sul Piave</text>
<text transform="translate(158.6,396.0) rotate(-90) scale(0.756,1)" font-size="13.5" font-weight="400" fill="#484848" stroke="#4a4a4a" stroke-width="0.28">11 - Bocca Callalta</text>
<text transform="translate(173.5,396.0) rotate(-90) scale(0.736344,1)" font-size="13.5" font-weight="400" fill="#484848" stroke="#4a4a4a" stroke-width="0.28">13 - Ponte di Piave</text>
<text transform="translate(212.1,396.0) rotate(-90) scale(0.715932,1)" font-size="13.5" font-weight="400" fill="#484848" stroke="#4a4a4a" stroke-width="0.28">15 - Oderzo</text>
<text transform="translate(235.7,396.0) rotate(-90) scale(0.768096,1)" font-size="13.5" font-weight="400" fill="#484848" stroke="#4a4a4a" stroke-width="0.28">11 - Gorgo al Monticano</text>
<text transform="translate(258.4,396.5) rotate(-90) scale(0.756,1)" font-size="13.5" font-weight="400" fill="#484848" stroke="#4a4a4a" stroke-width="0.28">9 - Motta di Livenza</text>
<text transform="translate(287.3,396.5) rotate(-90) scale(0.756,1)" font-size="13.5" font-weight="400" fill="#484848" stroke="#4a4a4a" stroke-width="0.28">8 - Annone Veneto</text>
<text transform="translate(303.3,396.5) rotate(-90) scale(0.756,1)" font-size="13.5" font-weight="400" fill="#484848" stroke="#4a4a4a" stroke-width="0.28">10 - Blessaglia</text>
<text transform="translate(349.3,396.5) rotate(-90) scale(0.756,1)" font-size="13.5" font-weight="400" fill="#484848" stroke="#4a4a4a" stroke-width="0.28">5 - Portogruaro</text>
<text transform="translate(397.2,395.5) rotate(-90) scale(0.73332,1)" font-size="13.5" font-weight="400" fill="#484848" stroke="#4a4a4a" stroke-width="0.28">15 - Cordovado</text>
<text transform="translate(419.3,395.5) rotate(-90) scale(0.76153,1)" font-size="13.5" font-weight="700" fill="#1a1a1a">14 - MORSANO AL TAGLIAMENTO</text>
<text transform="translate(469.0,395.5) rotate(-90) scale(0.74088,1)" font-size="13.5" font-weight="400" fill="#484848" stroke="#4a4a4a" stroke-width="0.28">14 - Rivignano</text>
<text transform="translate(534.2,394.8) rotate(-90) scale(0.77,1)" font-size="13.5" font-weight="700" fill="#1a1a1a">29 - TALMASSONS</text>
<text transform="translate(563.8,395.2) rotate(-90) scale(0.756,1)" font-size="13.5" font-weight="400" fill="#484848" stroke="#4a4a4a" stroke-width="0.28">23 - Castions di Strada</text>
<text transform="translate(586.4,395.2) rotate(-90) scale(0.756,1)" font-size="13.5" font-weight="400" fill="#484848" stroke="#4a4a4a" stroke-width="0.28">22 - Gonars</text>
<text transform="translate(610.3,395.2) rotate(-90) scale(0.74088,1)" font-size="13.5" font-weight="400" fill="#484848" stroke="#4a4a4a" stroke-width="0.28">25 - Palmanova</text>
<text transform="translate(653.5,392.5) rotate(-90) scale(0.756,1)" font-size="13.5" font-weight="400" fill="#484848" stroke="#4a4a4a" stroke-width="0.28">43 - Trivignano Udinese</text>
<text transform="translate(686.1,390.8) rotate(-90) scale(0.77,1)" font-size="13.5" font-weight="700" fill="#1a1a1a">67 - MANZANO</text>
<text transform="translate(718.5,389.3) rotate(-90) scale(0.743148,1)" font-size="13.5" font-weight="400" fill="#484848" stroke="#4a4a4a" stroke-width="0.28">81 - Corno di Rosazzo</text>
<text transform="translate(742.9,390.8) rotate(-90) scale(0.756,1)" font-size="13.5" font-weight="400" fill="#484848" stroke="#4a4a4a" stroke-width="0.28">62 - Cormons</text>
<text transform="translate(782.4,383.2) rotate(-90) scale(0.756,1)" font-size="13.5" font-weight="400" fill="#484848" stroke="#4a4a4a" stroke-width="0.28">132 - Dobrovo</text>
<text transform="translate(800.7,364.1) rotate(-90) scale(0.78309,1)" font-size="13.5" font-weight="700" fill="#1a1a1a">298 - GONIACE / SAN MARTINO</text>
<text transform="translate(826.2,369.2) rotate(-90) scale(0.756,1)" font-size="13.5" font-weight="400" fill="#484848" stroke="#4a4a4a" stroke-width="0.28">250 - San Floriano del Collio</text>
<text transform="translate(854.7,389.5) rotate(-90) scale(0.780948,1)" font-size="13.5" font-weight="400" fill="#484848" stroke="#4a4a4a" stroke-width="0.28">79 - Ingresso circuito</text>
<text transform="translate(878.7,379.4) rotate(-90) scale(0.75614,1)" font-size="13.5" font-weight="700" fill="#1a1a1a">158 - SAVER</text>
<text transform="translate(916.9,388.2) rotate(-90) scale(0.734832,1)" font-size="13.5" font-weight="400" fill="#484848" stroke="#4a4a4a" stroke-width="0.28">90 - NOVA GORICA/GORIZIA</text>
<text transform="translate(944.4,379.4) rotate(-90) scale(0.75614,1)" font-size="13.5" font-weight="700" fill="#1a1a1a">158 - SAVER</text>
<text transform="translate(61.8,512.0) rotate(-90)" font-size="14" font-weight="700" fill="#1a1a1a" text-anchor="end" textLength="13.5" lengthAdjust="spacingAndGlyphs">0.0</text>
<text transform="translate(105.1,512.0) rotate(-90)" font-size="14" font-weight="400" fill="#555555" stroke="#555555" stroke-width="0.2" text-anchor="end" textLength="18.4" lengthAdjust="spacingAndGlyphs">10.1</text>
<text transform="translate(158.5,512.0) rotate(-90)" font-size="14" font-weight="400" fill="#555555" stroke="#555555" stroke-width="0.2" text-anchor="end" textLength="18.4" lengthAdjust="spacingAndGlyphs">22.6</text>
<text transform="translate(174.1,512.0) rotate(-90)" font-size="14" font-weight="400" fill="#555555" stroke="#555555" stroke-width="0.2" text-anchor="end" textLength="18.4" lengthAdjust="spacingAndGlyphs">24.7</text>
<text transform="translate(211.6,512.0) rotate(-90)" font-size="14" font-weight="400" fill="#555555" stroke="#555555" stroke-width="0.2" text-anchor="end" textLength="18.4" lengthAdjust="spacingAndGlyphs">32.7</text>
<text transform="translate(235.7,512.0) rotate(-90)" font-size="14" font-weight="400" fill="#555555" stroke="#555555" stroke-width="0.2" text-anchor="end" textLength="18.4" lengthAdjust="spacingAndGlyphs">37.8</text>
<text transform="translate(258.7,512.0) rotate(-90)" font-size="14" font-weight="400" fill="#555555" stroke="#555555" stroke-width="0.2" text-anchor="end" textLength="18.4" lengthAdjust="spacingAndGlyphs">42.5</text>
<text transform="translate(287.2,512.0) rotate(-90)" font-size="14" font-weight="400" fill="#555555" stroke="#555555" stroke-width="0.2" text-anchor="end" textLength="18.4" lengthAdjust="spacingAndGlyphs">48.7</text>
<text transform="translate(303.3,512.0) rotate(-90)" font-size="14" font-weight="400" fill="#555555" stroke="#555555" stroke-width="0.2" text-anchor="end" textLength="18.4" lengthAdjust="spacingAndGlyphs">52.0</text>
<text transform="translate(349.9,512.0) rotate(-90)" font-size="14" font-weight="400" fill="#555555" stroke="#555555" stroke-width="0.2" text-anchor="end" textLength="18.4" lengthAdjust="spacingAndGlyphs">61.8</text>
<text transform="translate(397.9,512.0) rotate(-90)" font-size="14" font-weight="400" fill="#555555" stroke="#555555" stroke-width="0.2" text-anchor="end" textLength="18.4" lengthAdjust="spacingAndGlyphs">71.9</text>
<text transform="translate(419.9,512.0) rotate(-90)" font-size="14" font-weight="700" fill="#1a1a1a" text-anchor="end" textLength="19.0" lengthAdjust="spacingAndGlyphs">76.5</text>
<text transform="translate(470.9,512.0) rotate(-90)" font-size="14" font-weight="400" fill="#555555" stroke="#555555" stroke-width="0.2" text-anchor="end" textLength="18.4" lengthAdjust="spacingAndGlyphs">87.0</text>
<text transform="translate(535.7,512.0) rotate(-90)" font-size="14" font-weight="700" fill="#1a1a1a" text-anchor="end" textLength="24.5" lengthAdjust="spacingAndGlyphs">100.8</text>
<text transform="translate(565.4,512.0) rotate(-90)" font-size="14" font-weight="400" fill="#555555" stroke="#555555" stroke-width="0.2" text-anchor="end" textLength="23.7" lengthAdjust="spacingAndGlyphs">107.1</text>
<text transform="translate(587.7,512.0) rotate(-90)" font-size="14" font-weight="400" fill="#555555" stroke="#555555" stroke-width="0.2" text-anchor="end" textLength="23.7" lengthAdjust="spacingAndGlyphs">111.9</text>
<text transform="translate(610.9,512.0) rotate(-90)" font-size="14" font-weight="400" fill="#555555" stroke="#555555" stroke-width="0.2" text-anchor="end" textLength="23.7" lengthAdjust="spacingAndGlyphs">116.9</text>
<text transform="translate(654.7,512.0) rotate(-90)" font-size="14" font-weight="400" fill="#555555" stroke="#555555" stroke-width="0.2" text-anchor="end" textLength="23.7" lengthAdjust="spacingAndGlyphs">125.9</text>
<text transform="translate(687.2,512.0) rotate(-90)" font-size="14" font-weight="700" fill="#1a1a1a" text-anchor="end" textLength="24.5" lengthAdjust="spacingAndGlyphs">132.8</text>
<text transform="translate(719.5,512.0) rotate(-90)" font-size="14" font-weight="400" fill="#555555" stroke="#555555" stroke-width="0.2" text-anchor="end" textLength="23.7" lengthAdjust="spacingAndGlyphs">139.6</text>
<text transform="translate(743.8,512.0) rotate(-90)" font-size="14" font-weight="400" fill="#555555" stroke="#555555" stroke-width="0.2" text-anchor="end" textLength="23.7" lengthAdjust="spacingAndGlyphs">144.8</text>
<text transform="translate(783.4,512.0) rotate(-90)" font-size="14" font-weight="400" fill="#555555" stroke="#555555" stroke-width="0.2" text-anchor="end" textLength="23.7" lengthAdjust="spacingAndGlyphs">153.1</text>
<text transform="translate(802.0,512.0) rotate(-90)" font-size="14" font-weight="700" fill="#1a1a1a" text-anchor="end" textLength="24.5" lengthAdjust="spacingAndGlyphs">157.1</text>
<text transform="translate(826.8,512.0) rotate(-90)" font-size="14" font-weight="400" fill="#555555" stroke="#555555" stroke-width="0.2" text-anchor="end" textLength="23.7" lengthAdjust="spacingAndGlyphs">162.5</text>
<text transform="translate(855.5,512.0) rotate(-90)" font-size="14" font-weight="400" fill="#555555" stroke="#555555" stroke-width="0.2" text-anchor="end" textLength="23.7" lengthAdjust="spacingAndGlyphs">168.5</text>
<text transform="translate(879.6,512.0) rotate(-90)" font-size="14" font-weight="700" fill="#1a1a1a" text-anchor="end" textLength="24.5" lengthAdjust="spacingAndGlyphs">173.6</text>
<text transform="translate(918.0,512.0) rotate(-90)" font-size="14" font-weight="400" fill="#555555" stroke="#555555" stroke-width="0.2" text-anchor="end" textLength="23.7" lengthAdjust="spacingAndGlyphs">181.1</text>
<text transform="translate(945.5,512.0) rotate(-90)" font-size="14" font-weight="700" fill="#1a1a1a" text-anchor="end" textLength="24.5" lengthAdjust="spacingAndGlyphs">187.4</text>
<text transform="translate(980.9,512.0) rotate(-90)" font-size="14" font-weight="700" fill="#1a1a1a" text-anchor="end" textLength="24.5" lengthAdjust="spacingAndGlyphs">195.0</text>
<line x1="56.4" y1="574.6" x2="975.3" y2="574.6" stroke="#ababb0" stroke-width="2"/>
<line x1="56.4" y1="563.3" x2="56.4" y2="575.5" stroke="#ababb0" stroke-width="1.6"/>
<line x1="261.9" y1="563.3" x2="261.9" y2="575.5" stroke="#ababb0" stroke-width="1.6"/>
<line x1="356.4" y1="563.3" x2="356.4" y2="575.5" stroke="#ababb0" stroke-width="1.6"/>
<line x1="420.1" y1="563.3" x2="420.1" y2="575.5" stroke="#ababb0" stroke-width="1.6"/>
<line x1="719.8" y1="563.3" x2="719.8" y2="575.5" stroke="#ababb0" stroke-width="1.6"/>
<line x1="758.8" y1="563.3" x2="758.8" y2="575.5" stroke="#ababb0" stroke-width="1.6"/>
<line x1="819.0" y1="563.3" x2="819.0" y2="575.5" stroke="#ababb0" stroke-width="1.6"/>
<line x1="869.0" y1="563.3" x2="869.0" y2="575.5" stroke="#ababb0" stroke-width="1.6"/>
<line x1="912.8" y1="563.3" x2="912.8" y2="575.5" stroke="#ababb0" stroke-width="1.6"/>
<line x1="933.8" y1="563.3" x2="933.8" y2="575.5" stroke="#ababb0" stroke-width="1.6"/>
<line x1="975.3" y1="563.3" x2="975.3" y2="575.5" stroke="#ababb0" stroke-width="1.6"/>
<text x="150.2" y="570.6" font-size="14" fill="#a2a2a8" text-anchor="middle" textLength="11.5" lengthAdjust="spacingAndGlyphs">TV</text>
<text x="306.4" y="570.6" font-size="14" fill="#a2a2a8" text-anchor="middle" textLength="11.5" lengthAdjust="spacingAndGlyphs">VE</text>
<text x="389.6" y="570.6" font-size="14" fill="#a2a2a8" text-anchor="middle" textLength="12" lengthAdjust="spacingAndGlyphs">PN</text>
<text x="567.5" y="570.6" font-size="14" fill="#a2a2a8" text-anchor="middle" textLength="12.5" lengthAdjust="spacingAndGlyphs">UD</text>
<text x="737.8" y="570.6" font-size="14" fill="#a2a2a8" text-anchor="middle" textLength="13.3" lengthAdjust="spacingAndGlyphs">GO</text>
<text x="786.3" y="570.6" font-size="14" fill="#a2a2a8" text-anchor="middle" textLength="18" lengthAdjust="spacingAndGlyphs">SLO</text>
<text x="841.0" y="570.6" font-size="14" fill="#a2a2a8" text-anchor="middle" textLength="13.3" lengthAdjust="spacingAndGlyphs">GO</text>
<text x="890.0" y="570.6" font-size="14" fill="#a2a2a8" text-anchor="middle" textLength="18" lengthAdjust="spacingAndGlyphs">SLO</text>
<text x="923.1" y="570.6" font-size="14" fill="#a2a2a8" text-anchor="middle" textLength="13.3" lengthAdjust="spacingAndGlyphs">GO</text>
<text x="952.5" y="570.6" font-size="14" fill="#a2a2a8" text-anchor="middle" textLength="18" lengthAdjust="spacingAndGlyphs">SLO</text>
<g transform="translate(991.0,483.9) rotate(-90)" fill="none" stroke="#1a1a1a" stroke-width="1.7" stroke-linecap="round" stroke-linejoin="round"><path d="M8.6,1.6 C7.6,0.2 5.8,-0.2 4.2,0.2 C2,0.8 1.6,3 3,4 C4.4,5 8.2,4.6 8.8,6.4 C9.4,8.4 6.6,9.4 4.6,9 C2.8,8.6 1.8,7.8 1.2,6.8" transform="translate(-1.2,-7.6) scale(1.2,0.84)"/><path d="M12.0,0.0 L16.2,-7.4 L20.4,0.0 Z"/><path d="M8.6,1.6 C7.6,0.2 5.8,-0.2 4.2,0.2 C2,0.8 1.6,3 3,4 C4.4,5 8.2,4.6 8.8,6.4 C9.4,8.4 6.6,9.4 4.6,9 C2.8,8.6 1.8,7.8 1.2,6.8" transform="translate(20.6,-7.6) scale(1.2,0.84)"/></g>
<path d="M19.90,292.10 Q19.90,288.90 23.10,288.90 H43.90 Q47.10,288.90 47.10,292.10 V424.30 A13.60,13.60 0 0 1 19.90,424.30 Z" fill="url(#badgeg)" stroke="#089229" stroke-width="3.2"/><text transform="translate(40.0,405.7) rotate(-90)" font-size="18" font-weight="700" fill="#111111" textLength="107" lengthAdjust="spacingAndGlyphs">20 - TREVISO</text><circle cx="33.55" cy="424.4" r="11.60" fill="url(#greeng)" stroke="#1b1b1b" stroke-width="1.3"/><g transform="translate(33.55,424.40) scale(1.000)"><circle cx="-5.8" cy="4.0" r="2.85" fill="none" stroke="#ffffff" stroke-width="1.7"/><circle cx="5.9" cy="4.0" r="2.85" fill="none" stroke="#ffffff" stroke-width="1.7"/><path d="M-5.8,4.0 L-1.6,0.2 L3.6,0.0 L5.9,4.0 M-0.6,4.0 L-1.6,0.2" fill="none" stroke="#ffffff" stroke-width="1.1"/><path d="M-5.8,-4.2 C-5.2,-6.2 -1.2,-7.2 2.4,-6.9 L4.4,-5.2 L4.6,-2.2 L3.2,-2.0 L2.8,-4.0 L0.6,-3.6 L1.4,-1.0 L0.4,4.4 L-1.3,4.4 L-1.4,0.4 L-3.4,-0.2 L-5.6,-1.6 Z" fill="#ffffff"/><circle cx="3.6" cy="-6.6" r="2.0" fill="#ffffff"/></g>
<path d="M985.60,158.20 Q985.60,155.00 988.80,155.00 H1009.50 Q1012.70,155.00 1012.70,158.20 V409.65 A13.55,13.55 0 0 1 985.60,409.65 Z" fill="url(#badgeg2)" stroke="#e30008" stroke-width="3.2"/><text transform="translate(1006.6,394.0) rotate(-90)" font-size="18" font-weight="700" fill="#111111" textLength="227.6" lengthAdjust="spacingAndGlyphs">90 - NOVA GORICA/GORIZIA</text><circle cx="999.10" cy="409.9" r="11.00" fill="url(#redg)" stroke="#1b1b1b" stroke-width="1.3"/><g transform="translate(999.10,409.90) scale(0.951)"><circle cx="-5.8" cy="4.0" r="2.85" fill="none" stroke="#ffffff" stroke-width="1.7"/><circle cx="5.9" cy="4.0" r="2.85" fill="none" stroke="#ffffff" stroke-width="1.7"/><path d="M-5.8,4.0 L-1.6,0.2 L3.6,0.0 L5.9,4.0 M-0.6,4.0 L-1.6,0.2" fill="none" stroke="#ffffff" stroke-width="1.1"/><path d="M-3.8,-3.2 L-4.2,-9.2 L-2.8,-9.6 L-2.4,-5.6 L-0.4,-5.6 L0.6,-11.8 L2.0,-11.4 L1.2,-4.4 L0.9,-1.0 L3.4,0.4 L4.4,-1.4 L5.4,-0.8 L3.9,2.6 L0.8,1.8 L0.3,4.4 L-1.4,4.4 L-1.4,0.4 L-3.8,-0.6 Z" fill="#ffffff"/><circle cx="-1.2" cy="-7.6" r="1.9" fill="#ffffff"/></g>
</svg></body></html>
